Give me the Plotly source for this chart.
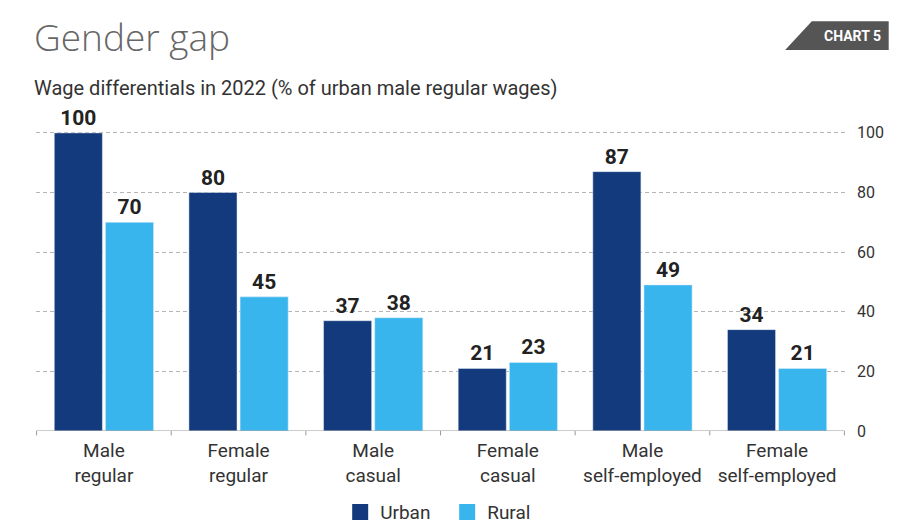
import plotly.graph_objects as go

categories = ["Male<br>regular", "Female<br>regular", "Male<br>casual",
              "Female<br>casual", "Male<br>self-employed", "Female<br>self-employed"]
urban = [100, 80, 37, 21, 87, 34]
rural = [70, 45, 38, 23, 49, 21]
y_ticks = [0, 20, 40, 60, 80, 100]

URBAN_COLOR = "#123a7c"
RURAL_COLOR = "#39b5ee"
FONT = "Roboto, sans-serif"
LABEL_FONT = dict(family=FONT, size=21, color="#222222", weight="bold")

fig = go.Figure()
for name, vals, color in [("Urban", urban, URBAN_COLOR), ("Rural", rural, RURAL_COLOR)]:
    fig.add_trace(go.Bar(
        x=categories, y=vals, name=name, marker_color=color,
        text=[str(v) for v in vals], textposition="outside", textfont=LABEL_FONT,
        cliponaxis=False, showlegend=False,
    ))

# legend entries drawn as large square markers
for name, color in [("Urban", URBAN_COLOR), ("Rural", RURAL_COLOR)]:
    fig.add_trace(go.Scatter(
        x=[None], y=[None], mode="markers", name=name,
        marker=dict(symbol="square", size=17, color=color),
    ))

# baseline with small separators between groups
shapes = [dict(type="line", xref="x", yref="y", x0=-0.5, x1=5.5, y0=0, y1=0,
               line=dict(color="#9a9a9a", width=1.2))]
for i in range(len(categories) + 1):
    shapes.append(dict(type="line", xref="x", yref="paper", x0=i - 0.5, x1=i - 0.5,
                       y0=0, y1=-0.014, line=dict(color="#9a9a9a", width=1)))

# "CHART 5" badge with slanted left edge
shapes.append(dict(type="path", xref="paper", yref="paper",
                   path="M 0.959 1.297 L 1.054 1.297 L 1.054 1.206 L 0.926 1.206 Z",
                   fillcolor="#555555", line=dict(width=0)))

fig.update_layout(
    width=902, height=528,
    margin=dict(l=36, r=57, t=115, b=97, autoexpand=False),
    paper_bgcolor="white", plot_bgcolor="white",
    barmode="group", bargap=0.24, bargroupgap=0.06,
    font=dict(family=FONT, color="#333333"),
    shapes=shapes,
    showlegend=True,
    legend=dict(orientation="h", x=0.376, xanchor="left",
                yref="container", y=0.03, yanchor="middle",
                font=dict(family=FONT, size=19, color="#333333"),
                itemsizing="trace", traceorder="normal", itemwidth=30,
                entrywidth=62, entrywidthmode="pixels"),
    xaxis=dict(showgrid=False, showline=False, ticks="", ticklabelstandoff=6,
               tickfont=dict(family=FONT, size=19, color="#333333")),
    yaxis=dict(side="right", range=[0, 106], tickvals=y_ticks,
               showgrid=True, gridcolor="#b5b5b5", griddash="4px,3px", gridwidth=1,
               zeroline=False, showline=False, ticks="", ticklabelstandoff=11,
               tickfont=dict(family=FONT, size=16, color="#333333")),
    annotations=[
        dict(text="Gender gap", xref="paper", yref="paper", x=-0.005, y=1.25,
             xanchor="left", yanchor="middle", showarrow=False,
             font=dict(family="Open Sans, Lato, sans-serif", size=37, color="#666666", weight=300)),
        dict(text="Wage differentials in 2022 (% of urban male regular wages)",
             xref="paper", yref="paper", x=-0.005, y=1.085, xanchor="left", yanchor="middle",
             showarrow=False, font=dict(family=FONT, size=20, color="#333333")),
        dict(text="CHART 5", xref="paper", yref="paper", x=1.009, y=1.25,
             xanchor="center", yanchor="middle", showarrow=False,
             font=dict(family=FONT, size=14, color="white", weight="bold")),
    ],
)

fig.write_html("out.html")
